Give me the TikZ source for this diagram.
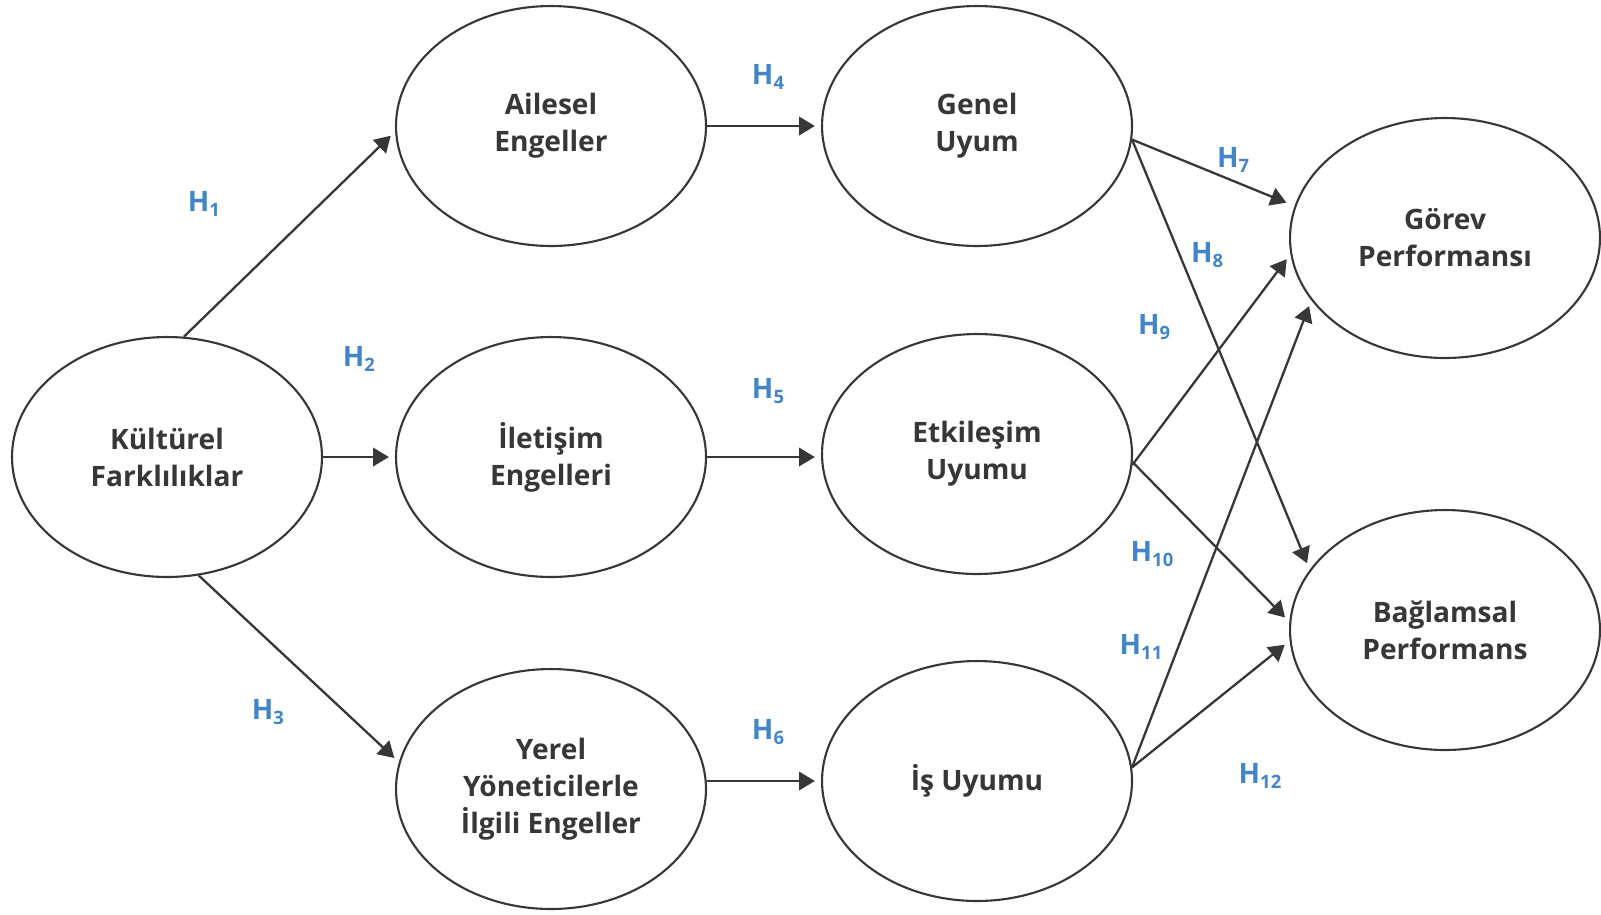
\documentclass[tikz,border=0pt]{standalone}
\usepackage{fontspec}
\setmainfont{Open Sans}
\usetikzlibrary{shapes.geometric,arrows.meta}
\definecolor{ink}{RGB}{55,55,55}
\definecolor{hblue}{RGB}{66,133,200}
\newcommand{\hyp}[1]{H\raisebox{-0.35ex}{\fontsize{10.5pt}{11pt}\selectfont #1}}
\begin{document}
\begin{tikzpicture}[x=0.02cm,y=-0.02cm,
  ell/.style={ellipse, draw=ink, line width=1.2pt, minimum width=6.2cm, minimum height=4.8cm,
    inner sep=0pt, align=center, text=ink, font=\fontsize{16}{21}\selectfont\bfseries},
  conn/.style={draw=ink, line width=1.3pt, -{Triangle[length=9pt,width=10.5pt]}, shorten >=3.5pt},
  hl/.style={text=hblue, font=\fontsize{16}{16}\selectfont\bfseries, inner sep=0pt}]
\useasboundingbox[fill=white] (0,0) rectangle (1601,914);

\node[ell] (k) at (167,457) {Kültürel\\Farklılıklar};
\node[ell] (a) at (551,126) {Ailesel\\Engeller};
\node[ell] (i) at (551,457) {İletişim\\Engelleri};
\node[ell] (y) at (551,789) {Yerel\\Yöneticilerle\\İlgili Engeller};
\node[ell] (g) at (977,126) {Genel\\Uyum};
\node[ell] (e) at (977,454) {Etkileşim\\Uyumu};
\node[ell] (s) at (977,781) {İş Uyumu};
\node[ell] (gp) at (1445,238) {Görev\\Performansı};
\node[ell] (bp) at (1445,630) {Bağlamsal\\Performans};

\draw[conn] (k.82) -- (a.182);
\draw[conn] (k.east) -- (i.west);
\draw[conn] (k.-75) -- (y.170);
\draw[conn] (a.east) -- (g.west);
\draw[conn] (i.east) -- (i.east -| e.west);
\draw[conn] (y.east |- s.west) -- (s.west);
\draw[conn, shorten >=5pt] (g.-5) -- (gp.168);
\draw[conn, shorten >=4pt] (g.-5) -- (bp.156);
\draw[conn] (e.-4) -- (gp.186);
\draw[conn] (e.-3) -- (bp.177);
\draw[conn] (s.5.5) -- (gp.205);
\draw[conn] (s.5.5) -- (bp.184);

\node[hl] (h1) at (204,204) {\hyp{1}};
\node[hl] (h2) at (359,359) {\hyp{2}};
\node[hl] (h3) at (268,712) {\hyp{3}};
\node[hl] (h4) at (768,77) {\hyp{4}};
\node[hl] (h5) at (768,391) {\hyp{5}};
\node[hl] (h6) at (768,732) {\hyp{6}};
\node[hl] (h7) at (1233,160) {\hyp{7}};
\node[hl] (h8) at (1207,255) {\hyp{8}};
\node[hl] (h9) at (1154,327) {\hyp{9}};
\node[hl] (h10) at (1152,554) {\hyp{10}};
\node[hl] (h11) at (1141,647) {\hyp{11}};
\node[hl] (h12) at (1260,776) {\hyp{12}};
\end{tikzpicture}
\end{document}
